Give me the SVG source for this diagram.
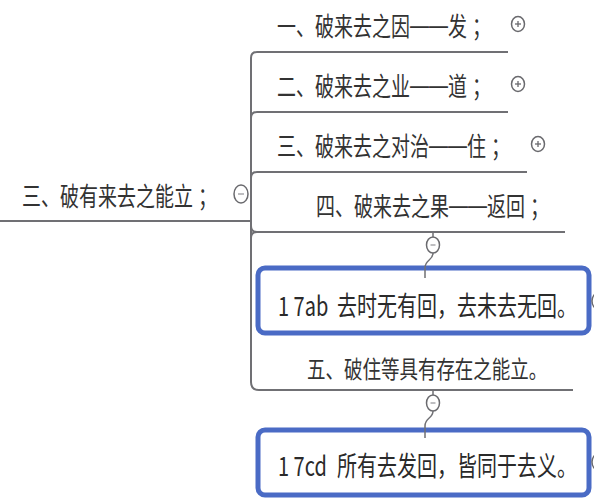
<svg xmlns="http://www.w3.org/2000/svg" width="594" height="504" viewBox="0 0 594 504">
<style>
.t{font-family:"Noto Sans CJK SC","Liberation Sans",sans-serif;fill:#333;font-size:19px}
.tb{font-family:"Noto Sans CJK SC","Liberation Sans",sans-serif;fill:#2a2a2a;font-size:20px}
.d{font-family:"Liberation Sans","Noto Sans CJK SC",sans-serif}
.ln{fill:none;stroke:#707074;stroke-width:2}
.box{fill:#fff;stroke:#4a6bc5;stroke-width:5}
.ic{fill:#fff;stroke:#6a6a6e;stroke-width:1.5}
.pl{stroke:#6a6a6e;stroke-width:1.3}
.mn{stroke:#a8a8ac;stroke-width:1.5}
</style>
<rect width="594" height="504" fill="#fff"/>
<g id="root">
<text class="t" transform="translate(0,206) scale(1,1.35)" x="22" y="0">三、破有来去之能立<tspan dx="5">；</tspan></text>
<ellipse class="ic" cx="241" cy="194" rx="7" ry="9"/>
<line class="mn" x1="238" y1="194" x2="244" y2="194"/>
</g>
<g id="branch1">
<text class="t" transform="translate(0,36) scale(1,1.35)" x="277" y="0">一、破来去之因<tspan class="d" dy="-1.5">——</tspan><tspan dy="1.5">发</tspan><tspan dx="5">；</tspan></text>
<ellipse class="ic" cx="518" cy="24" rx="6.5" ry="7.5"/>
<line class="pl" x1="515" y1="24" x2="521" y2="24"/><line class="pl" x1="518" y1="21" x2="518" y2="27"/>
</g>
<g id="branch2">
<text class="t" transform="translate(0,96) scale(1,1.35)" x="277" y="0">二、破来去之业<tspan class="d" dy="-1.5">——</tspan><tspan dy="1.5">道</tspan><tspan dx="5">；</tspan></text>
<ellipse class="ic" cx="518" cy="84" rx="6.5" ry="7.5"/>
<line class="pl" x1="515" y1="84" x2="521" y2="84"/><line class="pl" x1="518" y1="81" x2="518" y2="87"/>
</g>
<g id="branch3">
<text class="t" transform="translate(0,156) scale(1,1.35)" x="277" y="0">三、破来去之对治<tspan class="d" dy="-1.5">——</tspan><tspan dy="1.5">住</tspan><tspan dx="5">；</tspan></text>
<ellipse class="ic" cx="538" cy="144" rx="6.5" ry="7.5"/>
<line class="pl" x1="535" y1="144" x2="541" y2="144"/><line class="pl" x1="538" y1="141" x2="538" y2="147"/>
</g>
<g id="branch4">
<text class="t" transform="translate(0,216) scale(1,1.35)" x="316" y="0">四、破来去之果<tspan class="d" dy="-1.5">——</tspan><tspan dy="1.5">返回</tspan><tspan dx="5">；</tspan></text>
<ellipse class="ic" cx="433" cy="245" rx="6.5" ry="8"/>
<line class="mn" x1="430.5" y1="245" x2="435.5" y2="245"/>
</g>
<g id="box1">
<rect class="box" x="258" y="268" width="331" height="65" rx="7"/>
<text class="tb" transform="translate(0,316) scale(1,1.35)" x="278" y="0">1 7ab<tspan x="337">去时无有回，去未去无回。</tspan></text>
<ellipse class="ic" cx="598" cy="301" rx="6" ry="8"/>
</g>
<g id="branch5">
<text class="t" style="font-size:18.5px" transform="translate(0,378) scale(1,1.3)" x="307" y="0">五、破住等具有存在之能立。</text>
<ellipse class="ic" cx="433" cy="403" rx="6.5" ry="8"/>
<line class="mn" x1="430.5" y1="403" x2="435.5" y2="403"/>
</g>
<g id="box2">
<rect class="box" x="258" y="430" width="331" height="65" rx="7"/>
<text class="tb" transform="translate(0,476) scale(1,1.35)" x="278" y="0">1 7cd<tspan x="337">所有去发回，皆同于去义。</tspan></text>
<ellipse class="ic" cx="598" cy="462" rx="6" ry="8"/>
</g>
<g id="connectors">
<path class="ln" d="M0,221 H251"/>
<path class="ln" d="M251,382 V58 Q251,52 257,52 H508"/>
<path class="ln" d="M251,118 Q251,112 257,112 H508"/>
<path class="ln" d="M251,178 Q251,172 257,172 H527"/>
<path class="ln" d="M251,226 Q251,232 257,232 H565"/>
<path class="ln" d="M251,238 Q251,232 257,232"/>
<path class="ln" d="M251,382 Q251,390 259,390 H573"/>
<path class="ln" style="stroke-width:1.5" d="M433,232 V237 M433,253 C433,261 425,259 425,268 V278"/>
<path class="ln" style="stroke-width:1.5" d="M433,390 V395 M433,411 C433,419 425,417 425,426 V438"/>
</g>
</svg>
